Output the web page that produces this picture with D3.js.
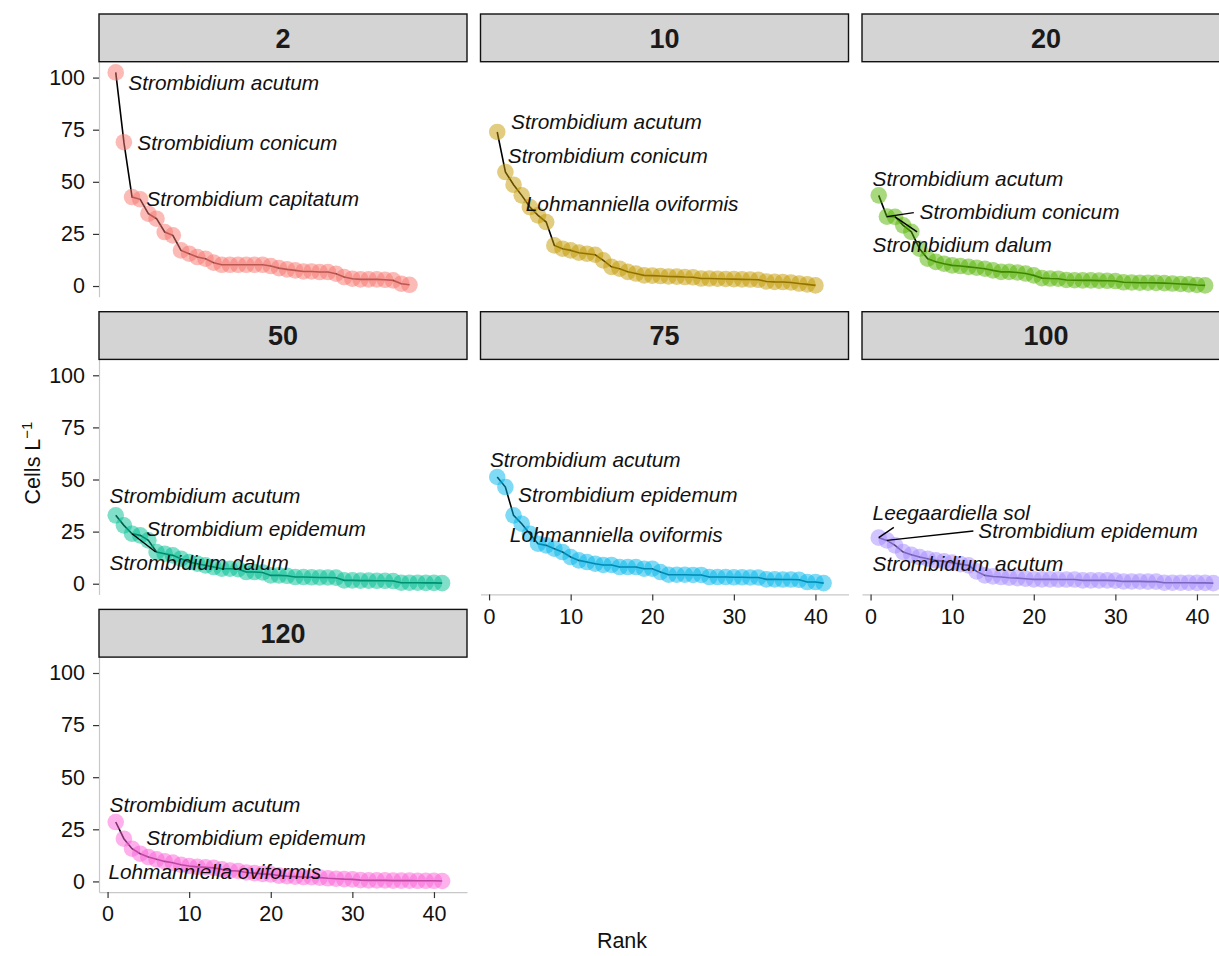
<!DOCTYPE html>
<html>
<head>
<meta charset="utf-8">
<script src="https://cdn.jsdelivr.net/npm/d3@7"></script>
<style>
  html, body { margin: 0; padding: 0; background: #fff; }
  svg { display: block; font-family: "Liberation Sans", Arial, sans-serif; }
</style>
</head>
<body>
<svg id="chart" width="1219" height="956"></svg>
<script>
// Facet levels (depth, m) and their hue colours
const facets = ["2", "10", "20", "50", "75", "100", "120"];
const colours = ["#F8766D", "#C49A00", "#53B400", "#00C094", "#00B6EB", "#A58AFF", "#FB61D7"];

// Rank-abundance values (cells per litre), sorted by rank
const cells2 = [102.5, 69, 42.7, 41.6, 34.7, 32.3, 25.9, 24.3, 17.1, 15.5, 13.9, 13.1, 11.2, 10.2, 10.2, 10.2, 10.2, 10.2, 10.2, 9.6,
  8.6, 8.0, 7.5, 7.0, 7.0, 6.7, 6.7, 5.9, 4.3, 3.5, 3.2, 3.2, 3.2, 3.0, 2.7, 1.1, 0.6];
const cells10 = [73.9, 54.7, 48.6, 43.5, 37.9, 33.9, 30.7, 19.5, 17.9, 17.1, 16, 15.5, 15, 12.3, 9.2, 8.3, 6.8, 6.0, 5.1, 5.0,
  4.8, 4.6, 4.5, 4.3, 4.2, 3.6, 3.6, 3.5, 3.4, 3.3, 3.2, 3.1, 3.0, 2.2, 2.0, 1.9, 1.7, 1.2, 0.8, 0.3];
const cells20 = [43.5, 33.3, 33.2, 29.1, 26, 17.9, 13.1, 11.6, 10.7, 9.9, 9.6, 9.2, 8.8, 8.3, 7.5, 6.8, 6.8, 6.5, 6.0, 5.1,
  3.8, 3.6, 3.5, 2.9, 2.8, 2.7, 2.7, 2.6, 2.5, 2.4, 1.8, 1.7, 1.6, 1.6, 1.5, 1.4, 1.2, 1.0, 0.8, 0.5, 0.3];
const cells50 = [32.8, 28, 24, 23.2, 20.8, 15.2, 14.4, 13.6, 12, 10.4, 9.6, 8.8, 8.0, 7.2, 7.2, 7.0, 5.6, 5.6, 5.4, 4.0,
  4.0, 3.8, 3.2, 3.2, 3.1, 3.0, 3.0, 2.9, 1.6, 1.6, 1.5, 1.5, 1.4, 1.4, 1.3, 0.5, 0.5, 0.5, 0.4, 0.4, 0.3];
const cells75 = [51.2, 46.4, 32.8, 28.8, 24, 19.2, 18.4, 16.8, 15.2, 12.8, 11.2, 10.4, 9.6, 9.0, 9.0, 8.0, 8.0, 8.0, 7.2, 7.2,
  5.6, 4.3, 4.3, 4.3, 4.2, 4.2, 3.2, 3.2, 3.2, 3.1, 3.1, 3.0, 3.0, 2.1, 2.1, 2.0, 2.0, 1.9, 0.8, 0.8, 0.3];
const cells100 = [22.1, 20.8, 18.4, 15.2, 13.9, 12.8, 12, 11.2, 10.7, 10.1, 9.4, 8.8, 5.9, 4.0, 3.5, 3.2, 2.9, 2.7, 2.4, 2.1,
  2.1, 2.1, 2.0, 2.0, 2.0, 1.6, 1.6, 1.6, 1.6, 1.5, 1.1, 1.1, 1.1, 1.0, 1.0, 0.5, 0.5, 0.5, 0.5, 0.4, 0.4, 0.3];
const cells120 = [28.5, 20.5, 15.7, 13.3, 11.7, 10.6, 9.6, 9.0, 8.0, 7.4, 7.0, 6.8, 6.5, 5.8, 5.2, 5.0, 4.3, 4.0, 3.6, 3.4,
  2.8, 2.5, 2.3, 2.1, 2.0, 1.8, 1.5, 1.3, 1.1, 1.0, 0.6, 0.5, 0.5, 0.5, 0.4, 0.4, 0.4, 0.3, 0.3, 0.3, 0.2];
const series = [cells2, cells10, cells20, cells50, cells75, cells100, cells120];

// Names of the three most abundant species per facet (rank 1..3)
const topSpecies = [
  ["Strombidium acutum", "Strombidium conicum", "Strombidium capitatum"],
  ["Strombidium acutum", "Strombidium conicum", "Lohmanniella oviformis"],
  ["Strombidium acutum", "Strombidium conicum", "Strombidium dalum"],
  ["Strombidium acutum", "Strombidium epidemum", "Strombidium dalum"],
  ["Strombidium acutum", "Strombidium epidemum", "Lohmanniella oviformis"],
  ["Leegaardiella sol", "Strombidium epidemum", "Strombidium acutum"],
  ["Strombidium acutum", "Strombidium epidemum", "Lohmanniella oviformis"]
];

// Where each name sits, in data units (rank, cells): [textX, textY, leaderEndX, leaderEndY] (leader optional)
const labelPlacement = [
  [[2.55, 97.6], [3.65, 68.8], [4.75, 41.9]],
  [[2.7, 78.9], [2.3, 62.6], [4.5, 39.6]],
  [[0.25, 51.5], [6.0, 35.7, 5.3, 35.2], [0.25, 20.0, 5.7, 26.0]],
  [[0.25, 42.2], [4.75, 26.4], [0.25, 10.1, 5.9, 15.2]],
  [[0.1, 59.5], [3.55, 42.7], [2.55, 23.5]],
  [[0.25, 34.1, 2.85, 27.0], [13.2, 25.4, 12.6, 25.3], [0.25, 9.6]],
  [[0.25, 36.8], [4.75, 20.9], [0.1, 4.7]]
];

const yTicks = [0, 25, 50, 75, 100];
const xTicks = [0, 10, 20, 30, 40];

// Facet grid layout
const nCol = 3;
const left0 = 99, panelW = 368, colStep = 381.5;
const top0 = 14, stripH = 47.7, plotH = 235, rowStep = 297.7;

const maxRank = d3.max(series, s => s.length);
const maxVal = d3.max(series, s => d3.max(s));
const xPad = (maxRank - 1) * 0.05, yPad = maxVal * 0.05;

const x = d3.scaleLinear().domain([1 - xPad, maxRank + xPad]).range([0, panelW]);
const y = d3.scaleLinear().domain([-yPad, maxVal + yPad]).range([plotH, 0]);

const svg = d3.select("#chart");

facets.forEach((facet, i) => {
  const col = i % nCol, row = Math.floor(i / nCol);
  const px = left0 + col * colStep;
  const py = top0 + row * rowStep + stripH;
  const data = series[i].map((v, k) => ({ rank: k + 1, v }));
  const g = svg.append("g").attr("transform", `translate(${px},${py})`);

  // strip
  svg.append("rect")
    .attr("x", px).attr("y", py - stripH)
    .attr("width", panelW).attr("height", stripH)
    .attr("fill", "#d4d4d4").attr("stroke", "#111").attr("stroke-width", 1.4);
  svg.append("text")
    .attr("x", px + panelW / 2).attr("y", py - stripH / 2)
    .attr("dy", "0.36em").attr("text-anchor", "middle")
    .attr("font-weight", "bold").attr("font-size", 27).attr("fill", "#1a1a1a")
    .text(facet);

  // axes: left column gets y, panels with nothing below get x
  const hasY = col === 0;
  const hasX = (i + nCol) >= facets.length;
  if (hasY) {
    const ay = g.append("g").call(d3.axisLeft(y).tickValues(yTicks).tickSize(6).tickSizeOuter(0).tickPadding(8));
    styleAxis(ay);
  }
  if (hasX) {
    const ax = g.append("g").attr("transform", `translate(0,${plotH})`)
      .call(d3.axisBottom(x).tickValues(xTicks).tickSize(6).tickSizeOuter(0).tickPadding(8));
    styleAxis(ax);
  }

  // connecting line, then translucent points over it
  g.append("path").datum(data)
    .attr("fill", "none").attr("stroke", "#000").attr("stroke-width", 1.6)
    .attr("d", d3.line().x(d => x(d.rank)).y(d => y(d.v)));
  g.append("g").selectAll("circle").data(data).join("circle")
    .attr("cx", d => x(d.rank)).attr("cy", d => y(d.v)).attr("r", 8.3)
    .attr("fill", colours[i]).attr("fill-opacity", 0.5);

  // species labels with optional leader segments
  topSpecies[i].forEach((name, k) => {
    const p = labelPlacement[i][k];
    if (p.length === 4) {
      g.append("line")
        .attr("x1", x(k + 1)).attr("y1", y(series[i][k]))
        .attr("x2", x(p[2])).attr("y2", y(p[3]))
        .attr("stroke", "#000").attr("stroke-width", 1.4);
    }
    g.append("text")
      .attr("x", x(p[0])).attr("y", y(p[1])).attr("dy", "0.35em")
      .attr("font-style", "italic").attr("font-size", 20.8).attr("fill", "#111")
      .text(name);
  });
});

function styleAxis(a) {
  a.select(".domain").attr("stroke", "#c8c8c8").attr("stroke-width", 1.2);
  a.selectAll(".tick line").attr("stroke", "#333").attr("stroke-width", 1.2);
  a.selectAll(".tick text").attr("font-size", 21.5).attr("fill", "#111")
    .attr("font-family", "Liberation Sans, Arial, sans-serif");
}

// axis titles
svg.append("text")
  .attr("x", 622).attr("y", 948).attr("text-anchor", "middle")
  .attr("font-size", 21.5).attr("fill", "#111").text("Rank");

const yt = svg.append("text")
  .attr("transform", "translate(40,463) rotate(-90)")
  .attr("text-anchor", "middle").attr("font-size", 21.5).attr("fill", "#111");
yt.append("tspan").text("Cells L");
yt.append("tspan").attr("baseline-shift", "super").attr("font-size", 15).text("\u22121");
</script>
</body>
</html>
